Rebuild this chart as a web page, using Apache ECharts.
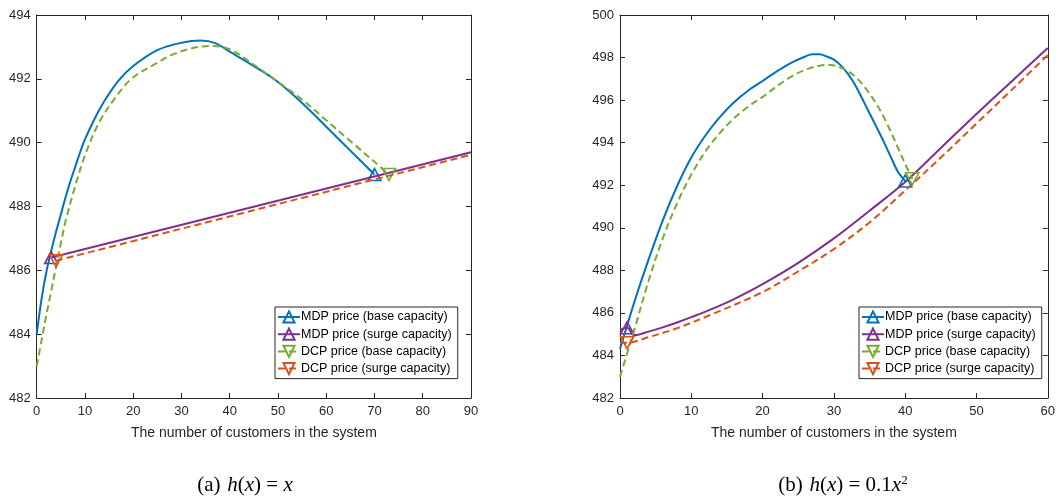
<!DOCTYPE html>
<html>
<head>
<meta charset="utf-8">
<script src="https://cdn.jsdelivr.net/npm/echarts@6/dist/echarts.min.js"></script>
<style>
    html, body { margin: 0; padding: 0; background: #fff; }
    #main { width: 1058px; height: 504px; }
</style>
</head>
<body>
<div id="main"></div>
<script>
// (a) h(x) = x
var mdpBaseA_x = [0, 1, 2, 3, 4, 5, 6, 7, 8, 9, 10, 12, 14, 17, 20, 25, 30, 34, 37, 40, 45, 50, 55, 60, 65, 70];
var mdpBaseA_y = [484.0, 485.1, 485.95, 486.6, 487.2, 487.75, 488.3, 488.8, 489.25, 489.7, 490.1, 490.75, 491.3, 491.95, 492.4, 492.9, 493.13, 493.2, 493.12, 492.85, 492.4, 491.9, 491.24, 490.5, 489.75, 489.0];
var mdpSurgeA_x = [3, 90];
var mdpSurgeA_y = [486.4, 489.7];
var dcpBaseA_x = [0, 1, 2, 3, 4, 5, 6, 8, 10, 13, 17, 20, 25, 28, 32, 36, 40, 45, 50, 55, 60, 65, 70, 73];
var dcpBaseA_y = [483.0, 483.8, 484.6, 485.35, 486.1, 486.85, 487.55, 488.65, 489.6, 490.65, 491.55, 492.05, 492.5, 492.75, 492.95, 493.03, 492.93, 492.44, 491.9, 491.35, 490.7, 490.05, 489.4, 489.0];
var dcpSurgeA_x = [4, 90];
var dcpSurgeA_y = [486.3, 489.62];

// (b) h(x) = 0.1x^2
var mdpBaseB_x = [0, 1, 2, 4, 6, 8, 10, 12, 14, 16, 18, 20, 22, 24, 26, 27, 28, 29, 30, 31, 32, 33, 34, 35, 36, 37, 38, 39, 40];
var mdpBaseB_y = [484.3, 485.4, 486.5, 488.5, 490.35, 491.95, 493.3, 494.35, 495.2, 495.9, 496.45, 496.9, 497.35, 497.75, 498.05, 498.15, 498.15, 498.05, 497.9, 497.62, 497.22, 496.7, 496.05, 495.38, 494.72, 494.04, 493.32, 492.62, 492.2];
var mdpSurgeB_x = [0, 1, 2, 4, 6, 8, 10, 13, 16, 20, 25, 30, 35, 40, 45, 50, 55, 60];
var mdpSurgeB_y = [485.2, 485.3, 484.95, 485.12, 485.32, 485.55, 485.8, 486.2, 486.65, 487.35, 488.35, 489.5, 490.8, 492.15, 493.75, 495.35, 496.9, 498.45];
var dcpBaseB_x = [0, 1, 2, 4, 6, 8, 10, 12, 14, 16, 18, 20, 22, 24, 26, 28, 29.5, 31, 32, 33, 34, 35, 36, 37, 38, 39, 40, 41];
var dcpBaseB_y = [483.0, 484.1, 485.2, 487.5, 489.5, 491.15, 492.5, 493.6, 494.45, 495.15, 495.7, 496.15, 496.65, 497.1, 497.43, 497.62, 497.65, 497.52, 497.35, 497.1, 496.75, 496.3, 495.8, 495.2, 494.5, 493.75, 493.0, 492.3];
var dcpSurgeB_x = [0, 1, 4, 8, 13, 20, 25, 30, 35, 40, 45, 50, 55, 60];
var dcpSurgeB_y = [484.6, 484.6, 484.86, 485.28, 485.95, 486.98, 487.95, 489.0, 490.25, 491.75, 493.3, 494.9, 496.5, 498.12];

var names = ['MDP price (base capacity)', 'MDP price (surge capacity)', 'DCP price (base capacity)', 'DCP price (surge capacity)'];
var colors = ['#0072BD', '#7E2F8E', '#77AC30', '#D95319'];
var upTri = 'path://M5,0L10,9L0,9Z';
var downTri = 'path://M0,0L10,0L5,9Z';

var axisColor = '#262626';
var labelFont = 'Liberation Sans';

// 只在标记点显示符号
function makeData(xs, ys, markIdx){
    var arr = [];
    for (var i = 0; i < xs.length; i++) {
        if (i === markIdx) {
            arr.push({value: [xs[i], ys[i]]});
        } else {
            arr.push({value: [xs[i], ys[i]], symbol: 'none'});
        }
    }
    return arr;
}

function makeSeries(idx, xs, ys, markIdx, gi, dashed, sym){
    return {
        name: names[idx],
        type: 'line',
        xAxisIndex: gi * 2,
        yAxisIndex: gi * 2,
        smooth: 0.35,
        symbol: sym,
        symbolSize: [13, 12],
        showSymbol: true,
        lineStyle: {color: colors[idx], width: 2, type: dashed ? [7, 4] : 'solid'},
        itemStyle: {color: 'rgba(0,0,0,0)', borderColor: colors[idx], borderWidth: 1.6},
        emphasis: {disabled: true},
        z: 2 + idx,
        data: makeData(xs, ys, markIdx)
    };
}

function bottomAxis(gi, max){
    return {
        type: 'value', gridIndex: gi, min: 0, max: max, interval: 10,
        name: 'The number of customers in the system',
        nameLocation: 'middle', nameGap: 28,
        nameTextStyle: {color: axisColor, fontSize: 14, fontFamily: labelFont},
        axisLine: {show: true, onZero: false, lineStyle: {color: axisColor, width: 1}},
        axisTick: {show: true, inside: true, length: 5, lineStyle: {color: axisColor}},
        axisLabel: {color: axisColor, fontSize: 13, fontFamily: labelFont, margin: 7},
        splitLine: {show: false}
    };
}
function topAxis(gi, max){
    return {
        type: 'value', gridIndex: gi, position: 'top', min: 0, max: max, interval: 10,
        axisLine: {show: true, onZero: false, lineStyle: {color: axisColor, width: 1}},
        axisTick: {show: true, inside: true, length: 5, lineStyle: {color: axisColor}},
        axisLabel: {show: false},
        splitLine: {show: false}
    };
}
function leftAxis(gi, max){
    return {
        type: 'value', gridIndex: gi, min: 482, max: max, interval: 2,
        axisLine: {show: true, onZero: false, lineStyle: {color: axisColor, width: 1}},
        axisTick: {show: true, inside: true, length: 5, lineStyle: {color: axisColor}},
        axisLabel: {color: axisColor, fontSize: 13, fontFamily: labelFont, margin: 6},
        splitLine: {show: false}
    };
}
function rightAxis(gi, max){
    return {
        type: 'value', gridIndex: gi, position: 'right', min: 482, max: max, interval: 2,
        axisLine: {show: true, onZero: false, lineStyle: {color: axisColor, width: 1}},
        axisTick: {show: true, inside: true, length: 5, lineStyle: {color: axisColor}},
        axisLabel: {show: false},
        splitLine: {show: false}
    };
}

function makeLegend(left){
    return {
        orient: 'vertical',
        left: left, top: 307,
        data: names,
        itemWidth: 22, itemHeight: 14, itemGap: 3.2,
        padding: [3, 6, 3, 2],
        borderColor: axisColor, borderWidth: 1,
        backgroundColor: '#fff',
        selectedMode: false,
        textStyle: {color: '#000', fontSize: 12.5, lineHeight: 14, fontFamily: labelFont, padding: [0, 0, 0, -4]}
    };
}

var capRich = {
    r: {fontFamily: 'Liberation Serif', fontSize: 21, color: '#000'},
    i: {fontFamily: 'Liberation Serif', fontSize: 21, fontStyle: 'italic', color: '#000'},
    s: {fontFamily: 'Liberation Serif', fontSize: 13, color: '#000', verticalAlign: 'top', padding: [0, 0, 9, 0]}
};

var chart = echarts.init(document.getElementById('main'));
var option = {
    animation: false,
    backgroundColor: '#fff',
    grid: [
        {left: 36.7, top: 15, width: 434.3, height: 383},
        {left: 620, top: 15, width: 434, height: 383}
    ],
    xAxis: [bottomAxis(0, 90), topAxis(0, 90), bottomAxis(1, 60), topAxis(1, 60)],
    yAxis: [leftAxis(0, 494), rightAxis(0, 494), leftAxis(1, 500), rightAxis(1, 500)],
    legend: [makeLegend(275), makeLegend(859)],
    series: [
        makeSeries(0, mdpBaseA_x, mdpBaseA_y, mdpBaseA_x.length - 1, 0, false, upTri),
        makeSeries(1, mdpSurgeA_x, mdpSurgeA_y, 0, 0, false, upTri),
        makeSeries(2, dcpBaseA_x, dcpBaseA_y, dcpBaseA_x.length - 1, 0, true, downTri),
        makeSeries(3, dcpSurgeA_x, dcpSurgeA_y, 0, 0, true, downTri),
        makeSeries(0, mdpBaseB_x, mdpBaseB_y, mdpBaseB_x.length - 1, 1, false, upTri),
        makeSeries(1, mdpSurgeB_x, mdpSurgeB_y, 1, 1, false, upTri),
        makeSeries(2, dcpBaseB_x, dcpBaseB_y, dcpBaseB_x.length - 1, 1, true, downTri),
        makeSeries(3, dcpSurgeB_x, dcpSurgeB_y, 1, 1, true, downTri)
    ],
    graphic: [
        {type: 'text', x: 245, y: 485, style: {text: '{r|(a)}  {i|h}{r|(}{i|x}{r|) = }{i|x}', rich: capRich, align: 'center', verticalAlign: 'middle'}},
        {type: 'text', x: 843, y: 485, style: {text: '{r|(b)}  {i|h}{r|(}{i|x}{r|) = 0.1}{i|x}{s|2}', rich: capRich, align: 'center', verticalAlign: 'middle'}}
    ]
};
chart.setOption(option);
</script>
</body>
</html>
